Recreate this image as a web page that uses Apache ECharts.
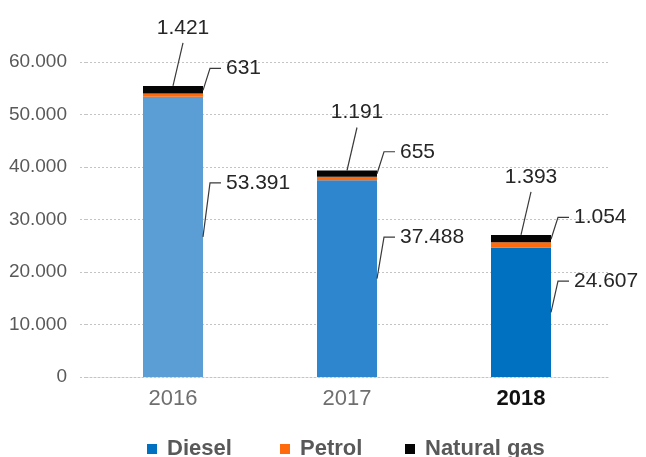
<!DOCTYPE html>
<html>
<head>
<meta charset="utf-8">
<script src="https://cdn.jsdelivr.net/npm/echarts@6/dist/echarts.min.js"></script>
<style>
  html, body { margin: 0; padding: 0; background: #fff; }
  #chart { width: 646px; height: 457px; }
</style>
</head>
<body>
<div id="chart"></div>
<script>
// Fuel consumption by year, stacked by fuel type
const years = ['2016', '2017', '2018'];
const diesel = [53391, 37488, 24607];
const petrol = [631, 655, 1054];
const naturalGas = [1421, 1191, 1393];
const yMin = 0, yMax = 60000, yStep = 10000;

const FONT = 'Arial, "Liberation Sans", sans-serif';
const BAR_WIDTH = 60;
const dieselYearColors = ['#5B9ED6', '#2E86CF', '#0070C0'];
const dieselColor = '#0070C0';
const petrolColor = '#FF6A0D';
const gasColor = '#050505';
const leaderColor = '#3a3a3a';
const labelColor = '#262626';

// German-style thousands separator: 53391 -> 53.391
function fmt(v) {
  return String(v).replace(/\B(?=(\d{3})+(?!\d))/g, '.');
}

function leader(points) {
  return {
    type: 'polyline',
    shape: { points: points },
    style: { stroke: leaderColor, lineWidth: 1.2, fill: null }
  };
}

function valueText(x, y, value, align) {
  return {
    type: 'text',
    x: x,
    y: y,
    style: {
      text: fmt(value),
      fill: labelColor,
      fontSize: 21,
      fontFamily: FONT,
      align: align,
      verticalAlign: 'middle'
    }
  };
}

// Value labels with leader lines, placed from the stacked bar geometry
function renderLabels(params, api) {
  const i = api.value(0);
  const d = api.value(1), p = api.value(2), g = api.value(3);
  const base = api.coord([i, 0]);
  const cx = base[0], y0 = base[1];
  const yD = api.coord([i, d])[1];
  const yP = api.coord([i, d + p])[1];
  const yG = api.coord([i, d + p + g])[1];
  const right = cx + BAR_WIDTH / 2;

  // diesel: anchored mid-segment, label up and to the right
  const dMid = (y0 + yD) / 2;
  const dH = y0 - yD;
  const dLy = dMid - (12 + 0.15 * dH);
  // petrol: anchored near the segment top
  const pLy = yP - 25;
  // natural gas: anchored at bar top, label above
  const gLy = yG - 58;

  return {
    type: 'group',
    children: [
      leader([[right, dMid], [right + 7, dLy], [right + 18, dLy]]),
      valueText(right + 23, dLy, d, 'left'),
      leader([[right, yP - 3], [right + 7, pLy], [right + 18, pLy]]),
      valueText(right + 23, pLy, p, 'left'),
      leader([[cx, yG], [cx + 10, yG - 43]]),
      valueText(cx + 10, gLy, g, 'center')
    ]
  };
}

const chart = echarts.init(document.getElementById('chart'), null, { renderer: 'canvas' });

const gridLine = { color: '#c4c4c4', width: 1, type: [2, 2] };

const legendBase = {
  orient: 'horizontal',
  top: 438,
  padding: 0,
  icon: 'rect',
  itemWidth: 10,
  itemHeight: 10,
  selectedMode: false,
  textStyle: {
    fontSize: 22,
    fontWeight: 'bold',
    fontFamily: FONT,
    color: '#595959',
    padding: [0, 0, 0, 5]
  }
};

chart.setOption({
  animation: false,
  backgroundColor: '#ffffff',
  grid: { left: 86, right: 38, top: 62, bottom: 80, containLabel: false },
  legend: [
    Object.assign({}, legendBase, { left: 147, data: ['Diesel'] }),
    Object.assign({}, legendBase, { left: 280, data: ['Petrol'] }),
    Object.assign({}, legendBase, { left: 405, data: ['Natural gas'] })
  ],
  xAxis: {
    type: 'category',
    data: years.map(function (y, i) {
      return i === years.length - 1
        ? { value: y, textStyle: { fontWeight: 'bold', color: '#111111' } }
        : y;
    }),
    axisLine: { show: true, lineStyle: gridLine },
    axisTick: { show: false },
    axisLabel: { margin: 11, fontSize: 22, fontFamily: FONT, color: '#6f6f6f' }
  },
  yAxis: {
    type: 'value',
    min: yMin,
    max: yMax,
    interval: yStep,
    axisLine: { show: false },
    axisTick: { show: true, length: 6, lineStyle: gridLine },
    splitLine: { show: true, lineStyle: gridLine },
    axisLabel: {
      margin: 19,
      fontSize: 19,
      fontFamily: FONT,
      color: '#595959',
      formatter: function (v) { return fmt(v); }
    }
  },
  series: [
    {
      name: 'Diesel',
      type: 'bar',
      stack: 'fuel',
      barWidth: BAR_WIDTH,
      itemStyle: { color: dieselColor },
      data: diesel.map(function (v, i) {
        return { value: v, itemStyle: { color: dieselYearColors[i] } };
      })
    },
    {
      name: 'Petrol',
      type: 'bar',
      stack: 'fuel',
      barWidth: BAR_WIDTH,
      itemStyle: { color: petrolColor },
      data: petrol
    },
    {
      name: 'Natural gas',
      type: 'bar',
      stack: 'fuel',
      barWidth: BAR_WIDTH,
      itemStyle: { color: gasColor },
      data: naturalGas
    },
    {
      name: 'labels',
      type: 'custom',
      silent: true,
      z: 10,
      renderItem: renderLabels,
      encode: { x: 0, y: 1 },
      data: years.map(function (y, i) {
        return [i, diesel[i], petrol[i], naturalGas[i]];
      })
    }
  ]
});
</script>
</body>
</html>
